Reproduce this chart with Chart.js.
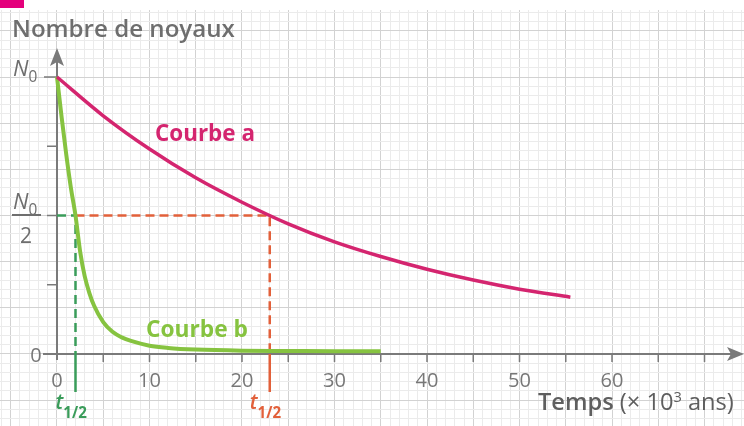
<!DOCTYPE html>
<html>
<head>
<meta charset="utf-8">
<script src="https://cdn.jsdelivr.net/npm/chart.js@4/dist/chart.umd.min.js"></script>
<style>
  html, body { margin: 0; padding: 0; background: #fff; }
  #wrap { position: relative; width: 744px; height: 426px; }
  #mark { position: absolute; left: 0; top: 0; width: 24px; height: 8px; background: #e4007c; }
</style>
</head>
<body>
<div id="wrap">
  <canvas id="chart" width="744" height="426"></canvas>
  <div id="mark"></div>
</div>
<script>
// Courbe a (temps en 10^3 ans, fraction de N0)
const tempsA = [0, 5, 10, 15, 20, 25, 30, 35, 40, 45, 50, 55.5];
const noyauxA = [1, 0.86, 0.74, 0.636, 0.548, 0.47, 0.405, 0.352, 0.306, 0.267, 0.234, 0.205];

// Courbe b
const tempsB = [0, 0.5, 1, 1.5, 2, 2.5, 3, 3.5, 4, 5, 6, 7, 8, 10, 12, 15, 20, 25, 30, 35];
const noyauxB = [1, 0.855, 0.72, 0.6, 0.5, 0.37, 0.28, 0.22, 0.175, 0.115, 0.08, 0.06, 0.047, 0.03, 0.022, 0.016, 0.012, 0.011, 0.01, 0.01];

// demi-vies
const demiVieA = 23;
const demiVieB = 2;

const xTickLabels = [0, 10, 20, 30, 40, 50, 60];

const FONT = '"Open Sans", "Noto Sans", sans-serif';
const GRAY = '#6e6e6e';
const AXIS = '#7a7a7a';
const MAGENTA = '#d4256f';
const GREEN = '#86c340';
const RED_DASH = '#e2603a';
const GREEN_DASH = '#3a9c5a';

const pts = (xs, ys) => xs.map((x, i) => ({ x: x, y: ys[i] }));

// texte en plusieurs morceaux, ajusté sur une largeur donnée
function drawRuns(ctx, runs, x, y, width, size) {
    const fontOf = (r, s) => `${r.style || 'normal'} ${r.weight || 400} ${s * (r.scale || 1)}px ${FONT}`;
    let total = 0;
    runs.forEach(r => { ctx.font = fontOf(r, size); total += ctx.measureText(r.text).width; });
    const s = width ? size * width / total : size;
    let cx = x;
    runs.forEach(r => {
        ctx.font = fontOf(r, s);
        ctx.fillStyle = r.color;
        ctx.fillText(r.text, cx, y + (r.dy || 0));
        cx += ctx.measureText(r.text).width;
    });
}

const axesPlugin = {
    id: 'axes',
    beforeDatasetsDraw(chart) {
        const ctx = chart.ctx;
        const xs = chart.scales.x, ys = chart.scales.y;
        const x0 = xs.getPixelForValue(0), y0 = ys.getPixelForValue(0);
        ctx.save();
        ctx.strokeStyle = AXIS;
        ctx.fillStyle = AXIS;
        ctx.lineWidth = 2;
        // axe des temps
        ctx.beginPath();
        ctx.moveTo(43, y0);
        ctx.lineTo(735, y0);
        ctx.stroke();
        ctx.beginPath();
        ctx.moveTo(744, y0);
        ctx.lineTo(727, y0 - 7);
        ctx.lineTo(731, y0);
        ctx.lineTo(727, y0 + 7);
        ctx.closePath();
        ctx.fill();
        // axe des noyaux
        ctx.beginPath();
        ctx.moveTo(x0, y0 + 6);
        ctx.lineTo(x0, 58);
        ctx.stroke();
        ctx.beginPath();
        ctx.moveTo(x0, 48);
        ctx.lineTo(x0 - 7, 66);
        ctx.lineTo(x0, 62);
        ctx.lineTo(x0 + 7, 66);
        ctx.closePath();
        ctx.fill();
        // graduations
        ctx.lineWidth = 1.5;
        [0.25, 0.5, 0.75, 1].forEach(v => {
            const py = ys.getPixelForValue(v);
            ctx.beginPath();
            ctx.moveTo(v === 1 ? 44 : 47, py);
            ctx.lineTo(x0, py);
            ctx.stroke();
        });
        for (let t = 5; t <= 70; t += 5) {
            const px = xs.getPixelForValue(t);
            ctx.beginPath();
            ctx.moveTo(px, y0);
            ctx.lineTo(px, y0 + 8);
            ctx.stroke();
        }
        ctx.restore();
    },
    afterDatasetsDraw(chart) {
        const ctx = chart.ctx;
        const xs = chart.scales.x, ys = chart.scales.y;
        ctx.save();
        ctx.textBaseline = 'alphabetic';
        // étiquettes de l'axe des temps
        ctx.font = `400 20px ${FONT}`;
        ctx.fillStyle = '#777';
        ctx.textAlign = 'center';
        xTickLabels.forEach(t => ctx.fillText(String(t), xs.getPixelForValue(t), 387));
        ctx.fillText('0', 36, ys.getPixelForValue(0) + 8);
        ctx.textAlign = 'left';

        // titres
        drawRuns(ctx, [{ text: 'Nombre de noyaux', weight: 600, color: GRAY }], 12, 37, 223, 20);
        drawRuns(ctx, [
            { text: 'Temps ', weight: 600, color: '#5e5e5e' },
            { text: '(× 10', weight: 400, color: '#5e5e5e' },
            { text: '3', weight: 400, scale: 0.62, dy: -8, color: '#5e5e5e' },
            { text: ' ans)', weight: 400, color: '#5e5e5e' }
        ], 538, 410, 196, 20);

        // N0 et N0/2
        const yN0 = ys.getPixelForValue(1);
        const yHalf = ys.getPixelForValue(0.5);
        const nLabel = (y) => drawRuns(ctx, [
            { text: 'N', style: 'italic', weight: 400, color: GRAY },
            { text: '0', weight: 400, scale: 0.7, dy: 6, color: GRAY }
        ], 13, y, 0, 22);
        nLabel(yN0 - 1);
        nLabel(yHalf - 6);
        ctx.fillStyle = GRAY;
        ctx.fillRect(12, yHalf - 1.5, 29, 2);
        ctx.font = `400 21px ${FONT}`;
        ctx.textAlign = 'center';
        ctx.fillText('2', 26, yHalf + 28);
        ctx.textAlign = 'left';

        // noms des courbes
        drawRuns(ctx, [{ text: 'Courbe a', weight: 700, color: MAGENTA }], 155, 141, 100, 20);
        drawRuns(ctx, [{ text: 'Courbe b', weight: 700, color: GREEN }], 146, 337, 102, 20);

        // t1/2
        const tLabel = (t, color) => drawRuns(ctx, [
            { text: 't', style: 'italic', weight: 600, color: color },
            { text: '1/2', weight: 700, scale: 0.72, dy: 9, color: color }
        ], xs.getPixelForValue(t) - 20, 409, 0, 21);
        tLabel(demiVieB, GREEN_DASH);
        tLabel(demiVieA, RED_DASH);
        ctx.restore();
    }
};

const xGrid = [];
for (let t = -6; t <= 74; t++) xGrid.push({ value: t });
const yGrid = [];
for (let k = -7; k <= 37; k++) yGrid.push({ value: k / 30 });

const below = -0.137;

new Chart(document.getElementById('chart'), {
    type: 'line',
    data: {
        datasets: [
            { label: 'Courbe a', data: pts(tempsA, noyauxA), borderColor: MAGENTA, borderWidth: 3.5,
              pointRadius: 0, cubicInterpolationMode: 'monotone', order: 0 },
            { label: 'Courbe b', data: pts(tempsB, noyauxB), borderColor: GREEN, borderWidth: 4,
              pointRadius: 0, cubicInterpolationMode: 'monotone', order: 1 },
            { data: [{ x: demiVieB, y: 0.5 }, { x: demiVieA, y: 0.5 }, { x: demiVieA, y: 0 }],
              borderColor: RED_DASH, borderWidth: 2.5, borderDash: [9, 5], pointRadius: 0, order: 3 },
            { data: [{ x: demiVieA, y: 0 }, { x: demiVieA, y: below }],
              borderColor: RED_DASH, borderWidth: 2.5, pointRadius: 0, order: 3 },
            { data: [{ x: 0, y: 0.5 }, { x: demiVieB, y: 0.5 }, { x: demiVieB, y: 0 }],
              borderColor: GREEN_DASH, borderWidth: 2.5, borderDash: [9, 5], pointRadius: 0, order: 2 },
            { data: [{ x: demiVieB, y: 0 }, { x: demiVieB, y: below }],
              borderColor: GREEN_DASH, borderWidth: 2.5, pointRadius: 0, order: 2 }
        ]
    },
    options: {
        responsive: false,
        animation: false,
        layout: { padding: { top: 10, left: 0, right: 0, bottom: 0 } },
        plugins: { legend: { display: false }, tooltip: { enabled: false } },
        scales: {
            x: {
                type: 'linear', min: -6.162, max: 74.27,
                afterBuildTicks: s => { s.ticks = xGrid; },
                ticks: { display: false },
                border: { display: false },
                grid: {
                    drawTicks: false, lineWidth: 1,
                    color: c => (Math.round(c.tick.value) % 5 === 0 ? '#d2d2d2' : '#ebebeb')
                }
            },
            y: {
                type: 'linear', min: -0.26, max: 1.2419,
                afterBuildTicks: s => { s.ticks = yGrid; },
                ticks: { display: false },
                border: { display: false },
                grid: {
                    drawTicks: false, lineWidth: 1,
                    color: c => (Math.round(c.tick.value * 30) % 5 === 0 ? '#d2d2d2' : '#ebebeb')
                }
            }
        }
    },
    plugins: [axesPlugin]
});
</script>
</body>
</html>
